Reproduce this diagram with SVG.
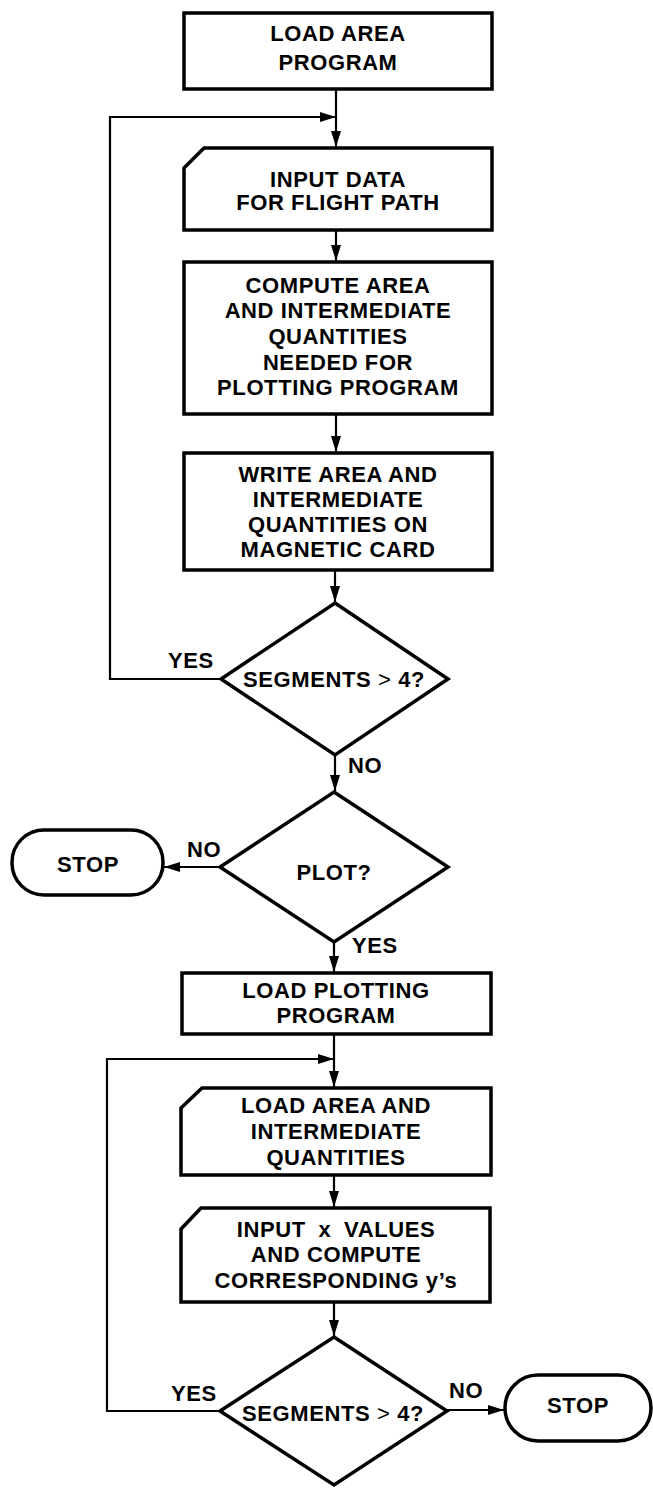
<svg xmlns="http://www.w3.org/2000/svg" width="653" height="1488" viewBox="0 0 653 1488">
<style>
.shape{fill:#fff;stroke:#000;stroke-width:3.5;stroke-linejoin:miter}
.conn{fill:none;stroke:#000;stroke-width:2.2}
text{font-family:"Liberation Sans",Arial,sans-serif;font-weight:bold;font-size:22px;letter-spacing:0.6px;fill:#000}
.c{text-anchor:middle}
.thin{font-weight:normal}
</style>
<defs>
<marker id="ah" markerUnits="userSpaceOnUse" markerWidth="16" markerHeight="10" refX="16" refY="5" orient="auto">
<path d="M0,0 L16,5 L0,10 Z" fill="#000"/>
</marker>
</defs>
<rect width="653" height="1488" fill="#fff"/>
<g id="connectors">
<line class="conn" x1="336" y1="89" x2="336" y2="147" marker-end="url(#ah)"/>
<polyline class="conn" points="221,679 110,679 110,117 336,117" marker-end="url(#ah)"/>
<line class="conn" x1="336" y1="230" x2="336" y2="261" marker-end="url(#ah)"/>
<line class="conn" x1="336" y1="414" x2="336" y2="452" marker-end="url(#ah)"/>
<line class="conn" x1="335" y1="570" x2="335" y2="602" marker-end="url(#ah)"/>
<line class="conn" x1="335" y1="755" x2="335" y2="791" marker-end="url(#ah)"/>
<line class="conn" x1="220" y1="867" x2="164" y2="867" marker-end="url(#ah)"/>
<line class="conn" x1="334" y1="942" x2="334" y2="972" marker-end="url(#ah)"/>
<line class="conn" x1="334" y1="1034" x2="334" y2="1087" marker-end="url(#ah)"/>
<polyline class="conn" points="220,1411 107,1411 107,1059 334,1059" marker-end="url(#ah)"/>
<line class="conn" x1="334" y1="1175" x2="334" y2="1207" marker-end="url(#ah)"/>
<line class="conn" x1="334" y1="1302" x2="334" y2="1336" marker-end="url(#ah)"/>
<line class="conn" x1="447" y1="1410" x2="504" y2="1410" marker-end="url(#ah)"/>
<text x="168" y="668">YES</text>
<text x="348" y="773">NO</text>
<text x="187" y="857">NO</text>
<text x="352" y="953">YES</text>
<text x="171" y="1401">YES</text>
<text x="449" y="1398">NO</text>
</g>
<g id="load-area-program">
<rect class="shape" x="184" y="13" width="308" height="76"/>
<text class="c" x="338" y="41">LOAD AREA</text>
<text class="c" x="338" y="70">PROGRAM</text>
</g>
<g id="input-data">
<path class="shape" d="M204,148 L492,148 L492,230 L184,230 L184,168 Z"/>
<text class="c" x="338" y="187">INPUT DATA</text>
<text class="c" x="338" y="210">FOR FLIGHT PATH</text>
</g>
<g id="compute-area">
<rect class="shape" x="184" y="262" width="308" height="152"/>
<text class="c" x="338" y="293">COMPUTE AREA</text>
<text class="c" x="338" y="318">AND INTERMEDIATE</text>
<text class="c" x="338" y="344">QUANTITIES</text>
<text class="c" x="338" y="370">NEEDED FOR</text>
<text class="c" x="338" y="395">PLOTTING PROGRAM</text>
</g>
<g id="write-area">
<rect class="shape" x="184" y="453" width="308" height="117"/>
<text class="c" x="338" y="482">WRITE AREA AND</text>
<text class="c" x="338" y="507">INTERMEDIATE</text>
<text class="c" x="338" y="532">QUANTITIES ON</text>
<text class="c" x="338" y="557">MAGNETIC CARD</text>
</g>
<g id="segments-1">
<polygon class="shape" points="335,603 448,679 335,755 221,679"/>
<text class="c" x="334" y="687">SEGMENTS <tspan class="thin">&gt;</tspan> 4?</text>
</g>
<g id="plot">
<polygon class="shape" points="334,792 448,867 334,942 220,867"/>
<text class="c" x="334" y="880">PLOT?</text>
</g>
<g id="stop-1">
<rect class="shape" x="12" y="830" width="151" height="65" rx="32" ry="32"/>
<text class="c" x="88" y="872">STOP</text>
</g>
<g id="load-plotting">
<rect class="shape" x="182" y="973" width="309" height="61"/>
<text class="c" x="336" y="998">LOAD PLOTTING</text>
<text class="c" x="336" y="1023">PROGRAM</text>
</g>
<g id="load-area">
<path class="shape" d="M202,1088 L491,1088 L491,1175 L181,1175 L181,1108 Z"/>
<text class="c" x="336" y="1113">LOAD AREA AND</text>
<text class="c" x="336" y="1139">INTERMEDIATE</text>
<text class="c" x="336" y="1165">QUANTITIES</text>
</g>
<g id="input-x">
<path class="shape" d="M201,1208 L490,1208 L490,1302 L181,1302 L181,1229 Z"/>
<text class="c" x="336" y="1237" word-spacing="6">INPUT x VALUES</text>
<text class="c" x="336" y="1262">AND COMPUTE</text>
<text class="c" x="336" y="1288">CORRESPONDING y’s</text>
</g>
<g id="segments-2">
<polygon class="shape" points="334,1337 447,1411 334,1485 220,1411"/>
<text class="c" x="333" y="1421">SEGMENTS <tspan class="thin">&gt;</tspan> 4?</text>
</g>
<g id="stop-2">
<rect class="shape" x="505" y="1375" width="146" height="66" rx="33" ry="33"/>
<text class="c" x="578" y="1413">STOP</text>
</g>
</svg>
